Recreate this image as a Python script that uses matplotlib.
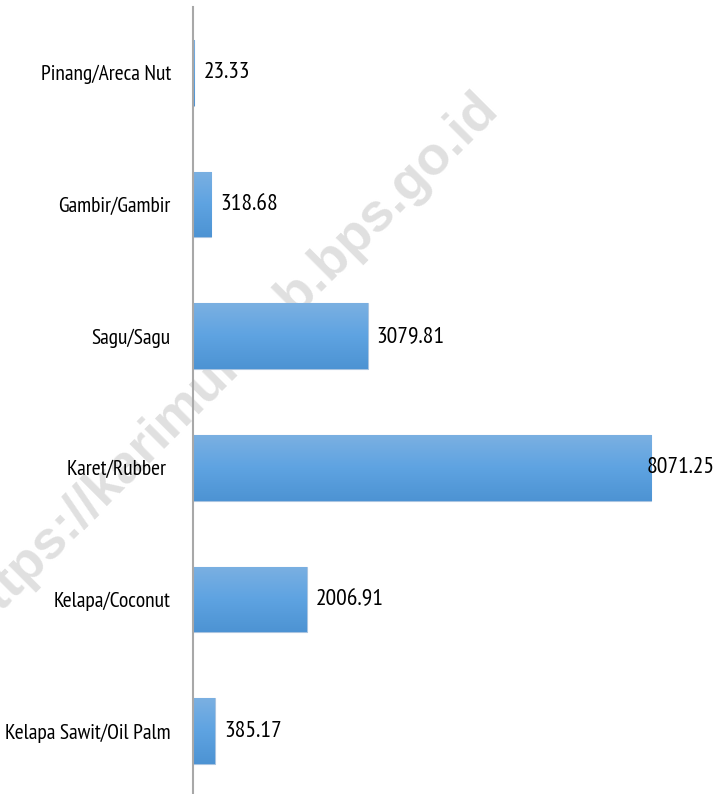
import matplotlib
matplotlib.use("Agg")
import matplotlib.pyplot as plt
import numpy as np
from matplotlib.colors import LinearSegmentedColormap

categories = ["Pinang/Areca Nut", "Gambir/Gambir", "Sagu/Sagu", "Karet/Rubber ",
              "Kelapa/Coconut", "Kelapa Sawit/Oil Palm"]
values = [23.33, 318.68, 3079.81, 8071.25, 2006.91, 385.17]
value_labels = ["23.33", "318.68", "3079.81", "8071.25", "2006.91", "385.17"]

plt.rcParams['font.family'] = ['PT Sans Narrow', 'DejaVu Sans']

fig = plt.figure(figsize=(7.18, 7.94), dpi=100)
ax = fig.add_axes([193/718, (794-797)/794, 1 - 193/718, 790/794])
ax.patch.set_alpha(0)

y = np.arange(len(categories))
bars = ax.barh(y, values, height=0.5, color="#5fa3e0", edgecolor="#a9c4e0",
               linewidth=0.8, zorder=2)

cmap = LinearSegmentedColormap.from_list("g", ["#7bb0e2", "#5ea3e1", "#4d93d3"])
grad = np.linspace(0, 1, 256).reshape(-1, 1)
for b in bars:
    x0, y0 = b.get_x(), b.get_y()
    w, h = b.get_width(), b.get_height()
    im = ax.imshow(grad, cmap=cmap, aspect="auto",
                   extent=(x0, x0 + w, y0 + h, y0), zorder=2.5, origin="upper")
    im.set_clip_path(b)

ax.set_xlim(0, 9250)
ax.set_ylim(len(categories) - 0.5, -0.5)

vmax = max(values)
for yi, v, lab in zip(y, values, value_labels):
    off = -4 if v == vmax else 9
    ax.annotate(lab, xy=(v, yi), xytext=(off * 0.72, 0), textcoords="offset points",
                ha="left", va="center", fontsize=17, color="#000000", zorder=5)

ax.set_yticks(y)
ax.set_yticklabels(categories, fontsize=15.5, color="#000000")
ax.tick_params(axis="y", length=0, pad=16)
ax.set_xticks([])
for s in ["top", "right", "bottom"]:
    ax.spines[s].set_visible(False)
ax.spines["left"].set_color("#a8a8a8")
ax.spines["left"].set_linewidth(1.5)
ax.spines["left"].set_zorder(4)

fig.text(228/718, 1 - 362/794, "https://karimunkab.bps.go.id", rotation=45,
         rotation_mode="anchor", ha="center", va="center", fontsize=39,
         fontweight="bold", family="Liberation Sans", color="#e0e0e0",
         zorder=-1)

fig.savefig("out.png", dpi=100, facecolor="white")
